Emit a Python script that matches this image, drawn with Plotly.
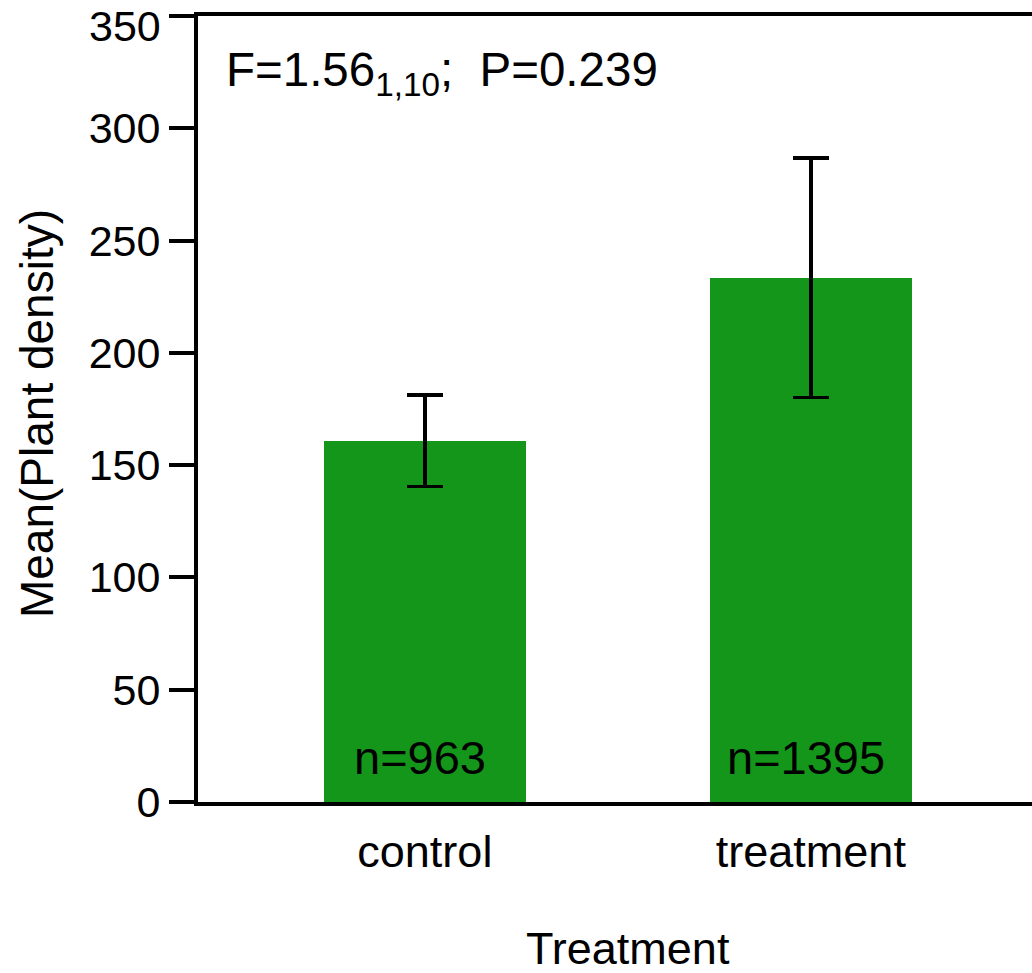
import plotly.graph_objects as go

# Group means with standard errors and sample sizes
categories = ["control", "treatment"]
means = [160.8, 233.4]
errors = [20.4, 53.3]
counts = [963, 1395]
y_ticks = [0, 50, 100, 150, 200, 250, 300, 350]

FONT = "Liberation Sans, Arial, sans-serif"
GREEN = "#14961A"

fig = go.Figure()
fig.add_trace(go.Bar(
    x=categories,
    y=means,
    width=0.5225,
    marker=dict(color=GREEN, line=dict(width=0)),
    error_y=dict(type="data", array=errors, visible=True,
                 color="black", thickness=3.5, width=18),
    showlegend=False,
    hoverinfo="skip",
))

# Sample size labels at the base of each bar
for cat, n in zip(categories, counts):
    fig.add_annotation(x=cat, y=0, xref="x", yref="y",
                       text=f"n={n}", showarrow=False,
                       yanchor="bottom", yshift=16, xshift=-5,
                       font=dict(family=FONT, size=47, color="black"))

# Test statistic
fig.add_annotation(x=0.031, y=0.968, xref="paper", yref="paper",
                   xanchor="left", yanchor="top", showarrow=False,
                   text="F=1.56<sub>1,10</sub>;  P=0.239",
                   font=dict(family=FONT, size=47.5, color="black"))

# Axis titles
fig.add_annotation(x=-0.193, y=0.4936, xref="paper", yref="paper",
                   xanchor="center", yanchor="middle", showarrow=False,
                   textangle=-90, text="Mean(Plant density)",
                   font=dict(family=FONT, size=46, color="black"))
fig.add_annotation(x=0.515, y=-0.222, xref="paper", yref="paper",
                   xanchor="center", yanchor="bottom", showarrow=False,
                   text="Treatment",
                   font=dict(family=FONT, size=45, color="black"))

# The top tick label is nudged down so it stays inside the page
top_tick = y_ticks[-1]
tick_text = [str(v) for v in y_ticks[:-1]] + [""]
fig.add_annotation(x=-0.0415, y=top_tick, xref="paper", yref="y",
                   xanchor="right", yanchor="middle", yshift=-10,
                   showarrow=False, text=str(top_tick),
                   font=dict(family=FONT, size=43, color="black"))

fig.update_layout(
    width=1032,
    height=973,
    margin=dict(l=198, r=0, t=16, b=171, pad=0, autoexpand=False),
    plot_bgcolor="white",
    paper_bgcolor="white",
    font=dict(family=FONT, color="black"),
    bargap=0,
)
fig.update_xaxes(
    type="category",
    range=[-0.5877, 1.5729],
    showline=True, linecolor="black", linewidth=4, mirror=True,
    ticks="", showgrid=False, zeroline=False, automargin=False,
    ticklabelstandoff=7,
    tickfont=dict(family=FONT, size=45, color="black"),
)
fig.update_yaxes(
    range=[0, 350],
    tickmode="array", tickvals=y_ticks,
    ticktext=tick_text,
    showline=True, linecolor="black", linewidth=4, mirror=False,
    ticks="outside", ticklen=25, tickwidth=4, tickcolor="black",
    showgrid=False, zeroline=False, automargin=False,
    tickfont=dict(family=FONT, size=43, color="black"),
)

fig.write_html("out.html")
